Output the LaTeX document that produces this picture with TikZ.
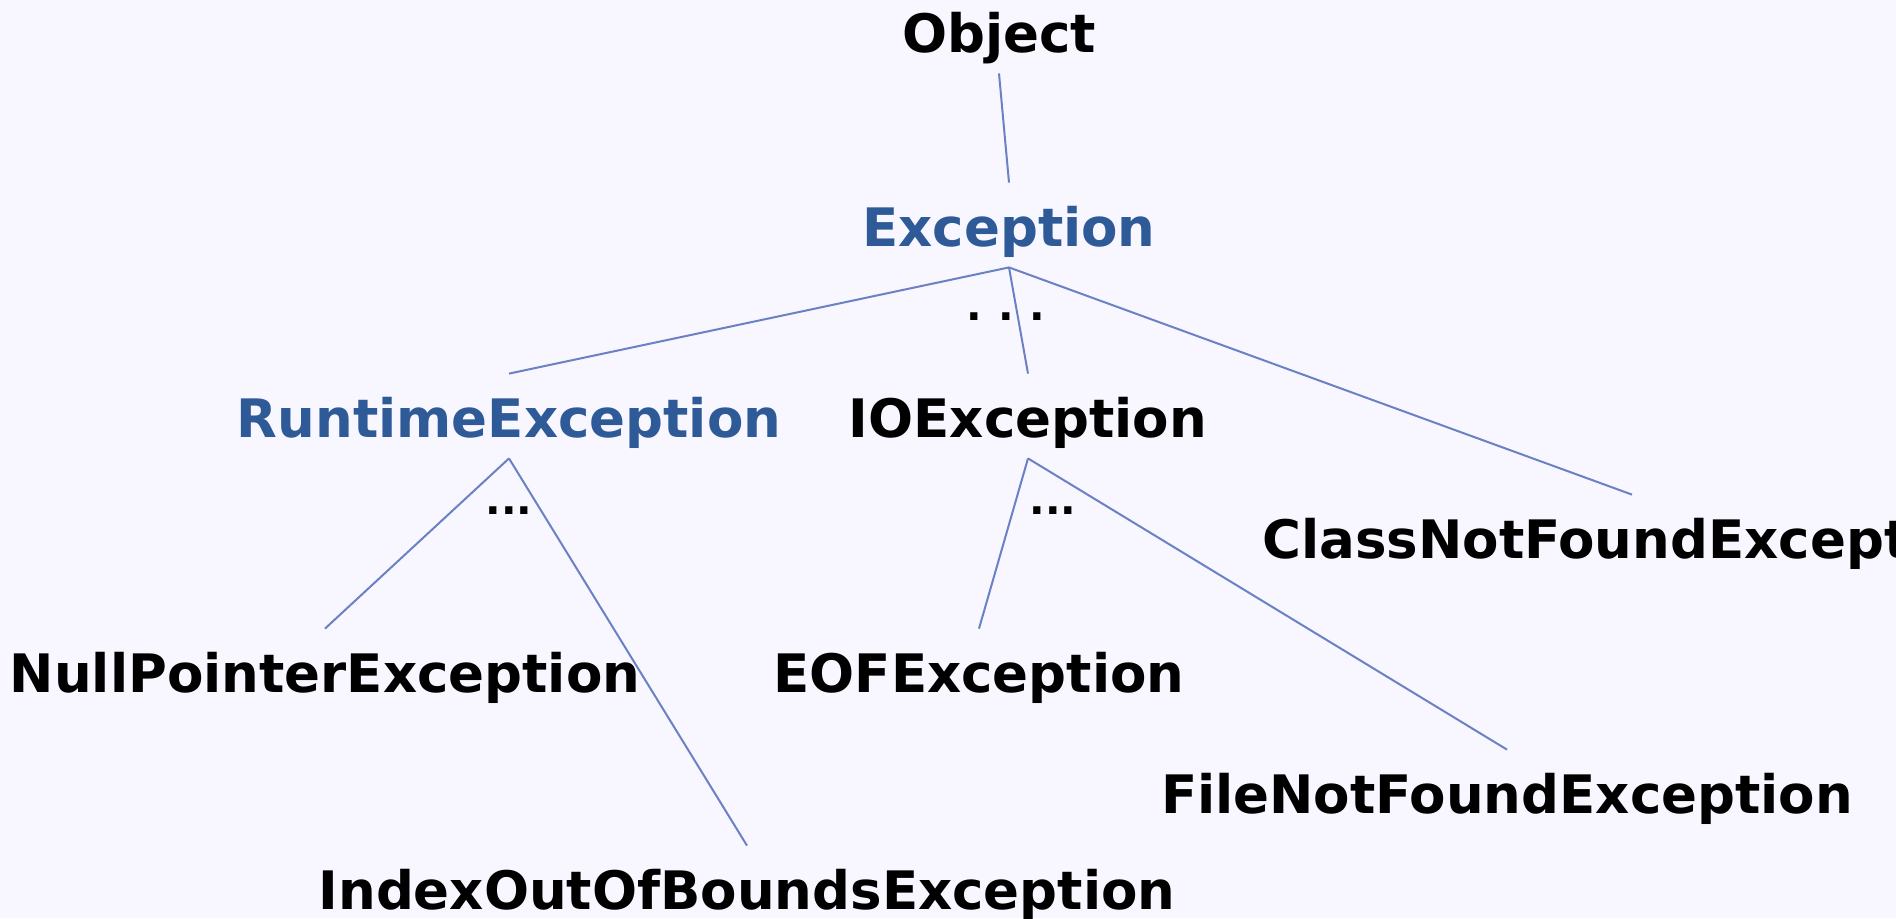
\documentclass[tikz,border=0pt]{standalone}
\usepackage{fontspec}
\setmainfont{DejaVu Sans}
\definecolor{bgcol}{RGB}{248,246,255}
\definecolor{exblue}{RGB}{46,90,152}
\definecolor{linkcol}{RGB}{106,130,196}
\tikzset{
    cls/.style={font=\fontsize{26.5}{30}\selectfont\bfseries, anchor=base,
        text height=27.5pt, text depth=6.5pt, inner xsep=0pt, inner ysep=4pt},
    keycls/.style={cls, text=exblue},
    more/.style={font=\fontsize{20.5}{24}\selectfont\bfseries, anchor=base, inner sep=0pt},
    link/.style={draw=linkcol, line width=1pt},
}

\begin{document}
\begin{tikzpicture}[x=0.5pt, y=-0.5pt]

    % Background and page size
    \fill[bgcol] (0,0) rectangle (1896,918);
    \useasboundingbox (0,0) rectangle (1896,918);
    \clip (0,0) rectangle (1896,918);

    % Top of the hierarchy
    \node[cls] (object) at (999,52) {Object};
    \node[keycls] (exception) at (1009,246) {Exception};
    \node[more] (excmore) at (1006,320) {.\kern8pt.\kern8pt.};

    % Direct subclasses of Exception
    \node[keycls] (runtime) at (509,437) {RuntimeException};
    \node[cls] (io) at (1028,437) {IOException};
    \node[cls, anchor=base west] (classnf) at (1262,558) {ClassNotFoundException};

    % Subclasses of RuntimeException
    \node[more] (runmore) at (509,514) {...};
    \node[cls] (nullptr) at (325,692) {NullPointerException};
    \node[cls] (index) at (747,909) {IndexOutOfBoundsException};

    % Subclasses of IOException
    \node[more] (iomore) at (1053,514) {...};
    \node[cls] (eof) at (979,692) {EOFException};
    \node[cls] (filenf) at (1507,813) {FileNotFoundException};

    % Links from parent to child
    \draw[link] (object.south) -- (exception.north);
    \foreach \child in {runtime, io, classnf}
        \draw[link] (exception.south) -- (\child.north);
    \foreach \child in {nullptr, index}
        \draw[link] (runtime.south) -- (\child.north);
    \foreach \child in {eof, filenf}
        \draw[link] (io.south) -- (\child.north);
\end{tikzpicture}
\end{document}
